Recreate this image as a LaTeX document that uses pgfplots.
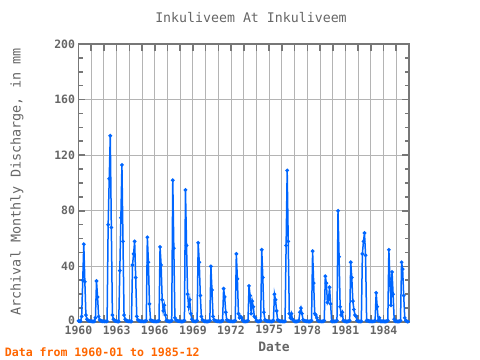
\documentclass[border=0pt]{standalone}
\usepackage{pgfplots}
\pgfplotsset{compat=1.18}
\usepackage{fontspec}
\setmainfont{DejaVu Sans Mono}
\setmonofont{DejaVu Sans Mono}
\definecolor{txt}{HTML}{666666}
\definecolor{framec}{HTML}{777777}
\definecolor{gridc}{HTML}{B4B4B4}
\definecolor{linec}{HTML}{0066FF}
\definecolor{note}{HTML}{FF6600}
\begin{document}
\begin{tikzpicture}
\path[use as bounding box] (-78.5bp,-38bp) rectangle (401.5bp,322bp);
\begin{axis}[
  at={(0,0)}, anchor=south west, scale only axis,
  width=330.5bp, height=278bp,
  xmin=1960, xmax=1986, ymin=0, ymax=200,
  xtick={1960,1961,...,1986},
  xticklabels={1960,,,1963,,,1966,,,1969,,,1972,,,1975,,,1978,,,1981,,,1984,,},
  ytick={0,40,80,120,160,200},
  yticklabels={\raisebox{4.5bp}{0},40,80,120,160,200},
  minor ytick={10,20,30,50,60,70,90,100,110,130,140,150,170,180,190},
  xmajorgrids, ymajorgrids,
  grid style={gridc, line width=0.9bp},
  axis line style={framec, line width=1.6bp},
  tick style={framec, line width=1.6bp},
  major tick length=7bp, minor tick length=4.5bp,
  ticklabel style={font=\bfseries\fontsize{11.5}{12}\selectfont, text=txt},
]
\addplot[linec, line width=1.5bp, mark=*, mark size=1bp, mark options={solid, fill=linec}]
 table[row sep=\\, x expr=\thisrow{yr}+(\thisrow{mo}-1)/12, y=v]{
yr mo v\\
1960 1 0.8\\ 1960 2 0.6\\ 1960 3 0.5\\ 1960 4 4\\ 1960 5 30\\ 1960 6 56\\ 1960 7 29\\ 1960 8 5\\ 1960 9 2\\ 1960 10 1\\ 1960 11 0.8\\ 1960 12 0.6\\
1961 1 0.5\\ 1961 2 0.4\\ 1961 3 0.4\\ 1961 4 0.5\\ 1961 5 3\\ 1961 6 29.5\\ 1961 7 18\\ 1961 8 4\\ 1961 9 1.5\\ 1961 10 1\\ 1961 11 0.7\\ 1961 12 0.5\\
1962 1 0.5\\ 1962 2 0.4\\ 1962 3 0.4\\ 1962 4 0.5\\ 1962 5 70\\ 1962 6 103\\ 1962 7 134\\ 1962 8 68\\ 1962 9 5\\ 1962 10 2\\ 1962 11 1\\ 1962 12 0.7\\
1963 1 0.5\\ 1963 2 0.4\\ 1963 3 0.4\\ 1963 4 37\\ 1963 5 75\\ 1963 6 113\\ 1963 7 58\\ 1963 8 5\\ 1963 9 2\\ 1963 10 1\\ 1963 11 0.7\\ 1963 12 0.5\\
1964 1 0.5\\ 1964 2 0.4\\ 1964 3 0.4\\ 1964 4 41\\ 1964 5 49\\ 1964 6 58\\ 1964 7 32\\ 1964 8 4\\ 1964 9 1.5\\ 1964 10 1\\ 1964 11 0.7\\ 1964 12 0.5\\
1965 1 0.5\\ 1965 2 0.4\\ 1965 3 0.4\\ 1965 4 0.5\\ 1965 5 1\\ 1965 6 61\\ 1965 7 43\\ 1965 8 13\\ 1965 9 1.5\\ 1965 10 1\\ 1965 11 0.7\\ 1965 12 0.5\\
1966 1 0.5\\ 1966 2 0.4\\ 1966 3 0.4\\ 1966 4 0.5\\ 1966 5 1\\ 1966 6 54\\ 1966 7 41\\ 1966 8 16\\ 1966 9 8\\ 1966 10 12\\ 1966 11 5\\ 1966 12 1\\
1967 1 0.7\\ 1967 2 0.5\\ 1967 3 0.4\\ 1967 4 0.5\\ 1967 5 1\\ 1967 6 102\\ 1967 7 53\\ 1967 8 3\\ 1967 9 1.5\\ 1967 10 1\\ 1967 11 0.7\\ 1967 12 0.5\\
1968 1 0.5\\ 1968 2 0.4\\ 1968 3 0.4\\ 1968 4 0.5\\ 1968 5 1\\ 1968 6 95\\ 1968 7 55\\ 1968 8 20\\ 1968 9 11\\ 1968 10 16\\ 1968 11 6\\ 1968 12 2\\
1969 1 0.8\\ 1969 2 0.5\\ 1969 3 0.4\\ 1969 4 0.5\\ 1969 5 1\\ 1969 6 57\\ 1969 7 43\\ 1969 8 19\\ 1969 9 4\\ 1969 10 1.5\\ 1969 11 0.8\\ 1969 12 0.5\\
1970 1 0.5\\ 1970 2 0.4\\ 1970 3 0.4\\ 1970 4 0.5\\ 1970 5 1\\ 1970 6 40\\ 1970 7 23\\ 1970 8 4\\ 1970 9 1.5\\ 1970 10 1\\ 1970 11 0.7\\ 1970 12 0.5\\
1971 1 0.5\\ 1971 2 0.4\\ 1971 3 0.4\\ 1971 4 0.5\\ 1971 5 1\\ 1971 6 24\\ 1971 7 18\\ 1971 8 7\\ 1971 9 1.5\\ 1971 10 1\\ 1971 11 0.7\\ 1971 12 0.5\\
1972 1 0.5\\ 1972 2 0.4\\ 1972 3 0.4\\ 1972 4 0.5\\ 1972 5 1\\ 1972 6 49\\ 1972 7 31\\ 1972 8 6\\ 1972 9 3\\ 1972 10 4\\ 1972 11 3\\ 1972 12 1\\
1973 1 0.5\\ 1973 2 0.4\\ 1973 3 0.4\\ 1973 4 0.5\\ 1973 5 1\\ 1973 6 26\\ 1973 7 19\\ 1973 8 6\\ 1973 9 15\\ 1973 10 11\\ 1973 11 4\\ 1973 12 3\\
1974 1 1\\ 1974 2 0.5\\ 1974 3 0.4\\ 1974 4 0.5\\ 1974 5 1\\ 1974 6 52\\ 1974 7 32\\ 1974 8 7\\ 1974 9 1.5\\ 1974 10 1\\ 1974 11 0.7\\ 1974 12 0.5\\
1975 1 0.5\\ 1975 2 0.4\\ 1975 3 0.4\\ 1975 4 0.5\\ 1975 5 1\\ 1975 6 20\\ 1975 7 16\\ 1975 8 8\\ 1975 9 1.5\\ 1975 10 1\\ 1975 11 0.7\\ 1975 12 0.5\\
1976 1 0.5\\ 1976 2 0.4\\ 1976 3 0.4\\ 1976 4 0.5\\ 1976 5 55\\ 1976 6 109\\ 1976 7 58\\ 1976 8 6\\ 1976 9 3\\ 1976 10 6\\ 1976 11 2\\ 1976 12 1\\
1977 1 0.5\\ 1977 2 0.4\\ 1977 3 0.4\\ 1977 4 0.5\\ 1977 5 1\\ 1977 6 7\\ 1977 7 10\\ 1977 8 6\\ 1977 9 1.5\\ 1977 10 1\\ 1977 11 0.7\\ 1977 12 0.5\\
1978 1 0.5\\ 1978 2 0.4\\ 1978 3 0.4\\ 1978 4 0.5\\ 1978 5 1\\ 1978 6 51\\ 1978 7 28\\ 1978 8 6\\ 1978 9 5\\ 1978 10 3\\ 1978 11 1\\ 1978 12 0.5\\
1979 1 0.5\\ 1979 2 0.4\\ 1979 3 0.4\\ 1979 4 0.5\\ 1979 5 1\\ 1979 6 33\\ 1979 7 28\\ 1979 8 14\\ 1979 9 16\\ 1979 10 25\\ 1979 11 13\\ 1979 12 0.5\\
1980 1 0.4\\ 1980 2 0.4\\ 1980 3 0.4\\ 1980 4 0.5\\ 1980 5 1\\ 1980 6 80\\ 1980 7 47\\ 1980 8 11\\ 1980 9 5\\ 1980 10 7\\ 1980 11 1\\ 1980 12 0.5\\
1981 1 0.5\\ 1981 2 0.4\\ 1981 3 0.4\\ 1981 4 0.5\\ 1981 5 1\\ 1981 6 43\\ 1981 7 32\\ 1981 8 15\\ 1981 9 9\\ 1981 10 5\\ 1981 11 4\\ 1981 12 1\\
1982 1 0.5\\ 1982 2 0.4\\ 1982 3 0.4\\ 1982 4 0.5\\ 1982 5 49\\ 1982 6 58\\ 1982 7 64\\ 1982 8 48\\ 1982 9 1\\ 1982 10 1\\ 1982 11 0.7\\ 1982 12 0.5\\
1983 1 0.5\\ 1983 2 0.4\\ 1983 3 0.4\\ 1983 4 0.5\\ 1983 5 1\\ 1983 6 21\\ 1983 7 11\\ 1983 8 1\\ 1983 9 3\\ 1983 10 0.5\\ 1983 11 0.5\\ 1983 12 0.5\\
1984 1 0.5\\ 1984 2 0.4\\ 1984 3 0.4\\ 1984 4 0.5\\ 1984 5 1\\ 1984 6 52\\ 1984 7 31\\ 1984 8 12\\ 1984 9 36\\ 1984 10 20\\ 1984 11 2\\ 1984 12 0.5\\
1985 1 0.5\\ 1985 2 0.4\\ 1985 3 0.4\\ 1985 4 0.5\\ 1985 5 1\\ 1985 6 43\\ 1985 7 38\\ 1985 8 19\\ 1985 9 3\\ 1985 10 1\\ 1985 11 0.5\\ 1985 12 0.2\\
};
\end{axis}
\node[text=txt, font=\fontsize{13.3}{14}\selectfont] at (172.5bp,304bp) {Inkuliveem At Inkuliveem};
\node[text=txt, font=\fontsize{13.5}{14}\selectfont, rotate=90] at (-61.5bp,140bp) {Archival Monthly Discharge, in mm};
\node[text=txt, font=\bfseries\fontsize{13}{14}\selectfont] at (195.5bp,-25bp) {Date};
\node[text=note, font=\bfseries\fontsize{11.6}{12}\selectfont, anchor=west, inner sep=0pt] at (-73.8bp,-30bp) {Data from 1960-01 to 1985-12};
\end{tikzpicture}
\end{document}
